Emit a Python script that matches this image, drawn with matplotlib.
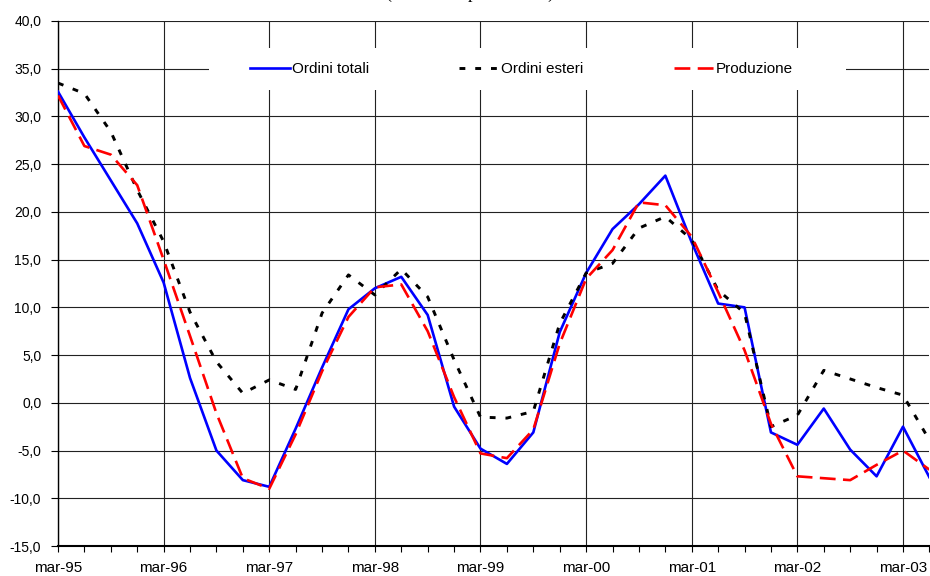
import numpy as np
import matplotlib.pyplot as plt
from matplotlib.patches import Rectangle
from matplotlib.ticker import FixedLocator, MultipleLocator, FuncFormatter

# Quarterly series, mar-95 .. jun-03 (percent changes)
ordini_totali = [32.6, 27.8, 23.3, 18.8, 12.6, 2.6, -5.0, -8.1, -8.8, -2.7,
                 3.7, 9.8, 12.0, 13.2, 9.2, -0.4, -4.8, -6.4, -3.1, 7.4,
                 13.6, 18.2, 20.8, 23.8, 16.8, 10.4, 10.0, -3.1, -4.4, -0.6,
                 -4.9, -7.7, -2.5, -7.8]
ordini_esteri = [33.5, 32.4, 28.4, 22.3, 16.9, 9.5, 4.3, 1.0, 2.4, 1.4,
                 9.4, 13.4, 11.3, 14.0, 11.1, 4.5, -1.5, -1.6, -0.9, 8.3,
                 13.6, 14.6, 18.3, 19.5, 17.1, 11.8, 9.4, -2.5, -1.3, 3.4,
                 2.5, 1.6, 0.8, -3.9]
produzione = [32.2, 26.9, 26.0, 22.8, 15.0, 7.0, -1.1, -7.9, -9.0, -3.3,
              3.3, 9.0, 12.1, 12.4, 7.5, 0.6, -5.3, -5.8, -2.8, 6.2,
              13.0, 16.0, 21.0, 20.7, 17.4, 11.6, 5.5, -2.2, -7.7, -7.9,
              -8.1, -6.5, -5.0, -7.0]
year_labels = ['mar-95', 'mar-96', 'mar-97', 'mar-98', 'mar-99',
               'mar-00', 'mar-01', 'mar-02', 'mar-03']

plt.rcParams['font.family'] = ['Liberation Sans', 'DejaVu Sans']

x = np.arange(len(ordini_totali))

fig = plt.figure(figsize=(9.3, 5.76), dpi=100)
ax = fig.add_axes([58 / 930, 30 / 576, 871.4 / 930, 525 / 576])
ax.set_axisbelow(True)

ax.plot(x, ordini_totali, color='#0000FF', lw=1.9, label='Ordini totali', zorder=3)
ax.plot(x, ordini_esteri, color='black', lw=2.1, dashes=(2.0, 3.4),
        label='Ordini esteri', zorder=3)
ax.plot(x, produzione, color='#FF0000', lw=1.9, dashes=(6.0, 2.8),
        label='Produzione', zorder=3)

ax.set_xlim(0, len(x) - 1)
ax.set_ylim(-15, 40)

ax.xaxis.set_major_locator(FixedLocator(np.arange(0, len(x), 4)))
ax.xaxis.set_minor_locator(MultipleLocator(1))
ax.set_xticklabels(year_labels)
ax.yaxis.set_major_locator(MultipleLocator(5))
ax.yaxis.set_major_formatter(FuncFormatter(lambda v, p: f'{v:.1f}'.replace('.', ',')))

ax.tick_params(axis='x', which='both', direction='out', length=4, width=0.8,
               labelsize=11, pad=7)
ax.tick_params(axis='y', direction='out', length=5, width=0.8, labelsize=10, pad=7)

ax.grid(True, which='major', color='#222222', lw=0.8)
for side in ['top', 'right']:
    ax.spines[side].set_visible(False)
ax.spines['left'].set_linewidth(1.0)
ax.spines['bottom'].set_linewidth(1.5)

# white band behind the legend
ax.add_patch(Rectangle((0.173, 0.869), 0.731, 0.08, transform=ax.transAxes,
                       facecolor='white', edgecolor='none', zorder=1))
ax.legend(loc='center', bbox_to_anchor=(0.532, 0.9086), ncol=3, frameon=False,
          fontsize=11, handlelength=2.6, handletextpad=0.15, columnspacing=5.9)

fig.text(0.505, 1.0 + 2.5 / 576, '(variazioni percentuali)', ha='center',
         va='baseline', fontsize=13, family=['Liberation Serif', 'DejaVu Serif'])

fig.savefig('out.png', dpi=100)
